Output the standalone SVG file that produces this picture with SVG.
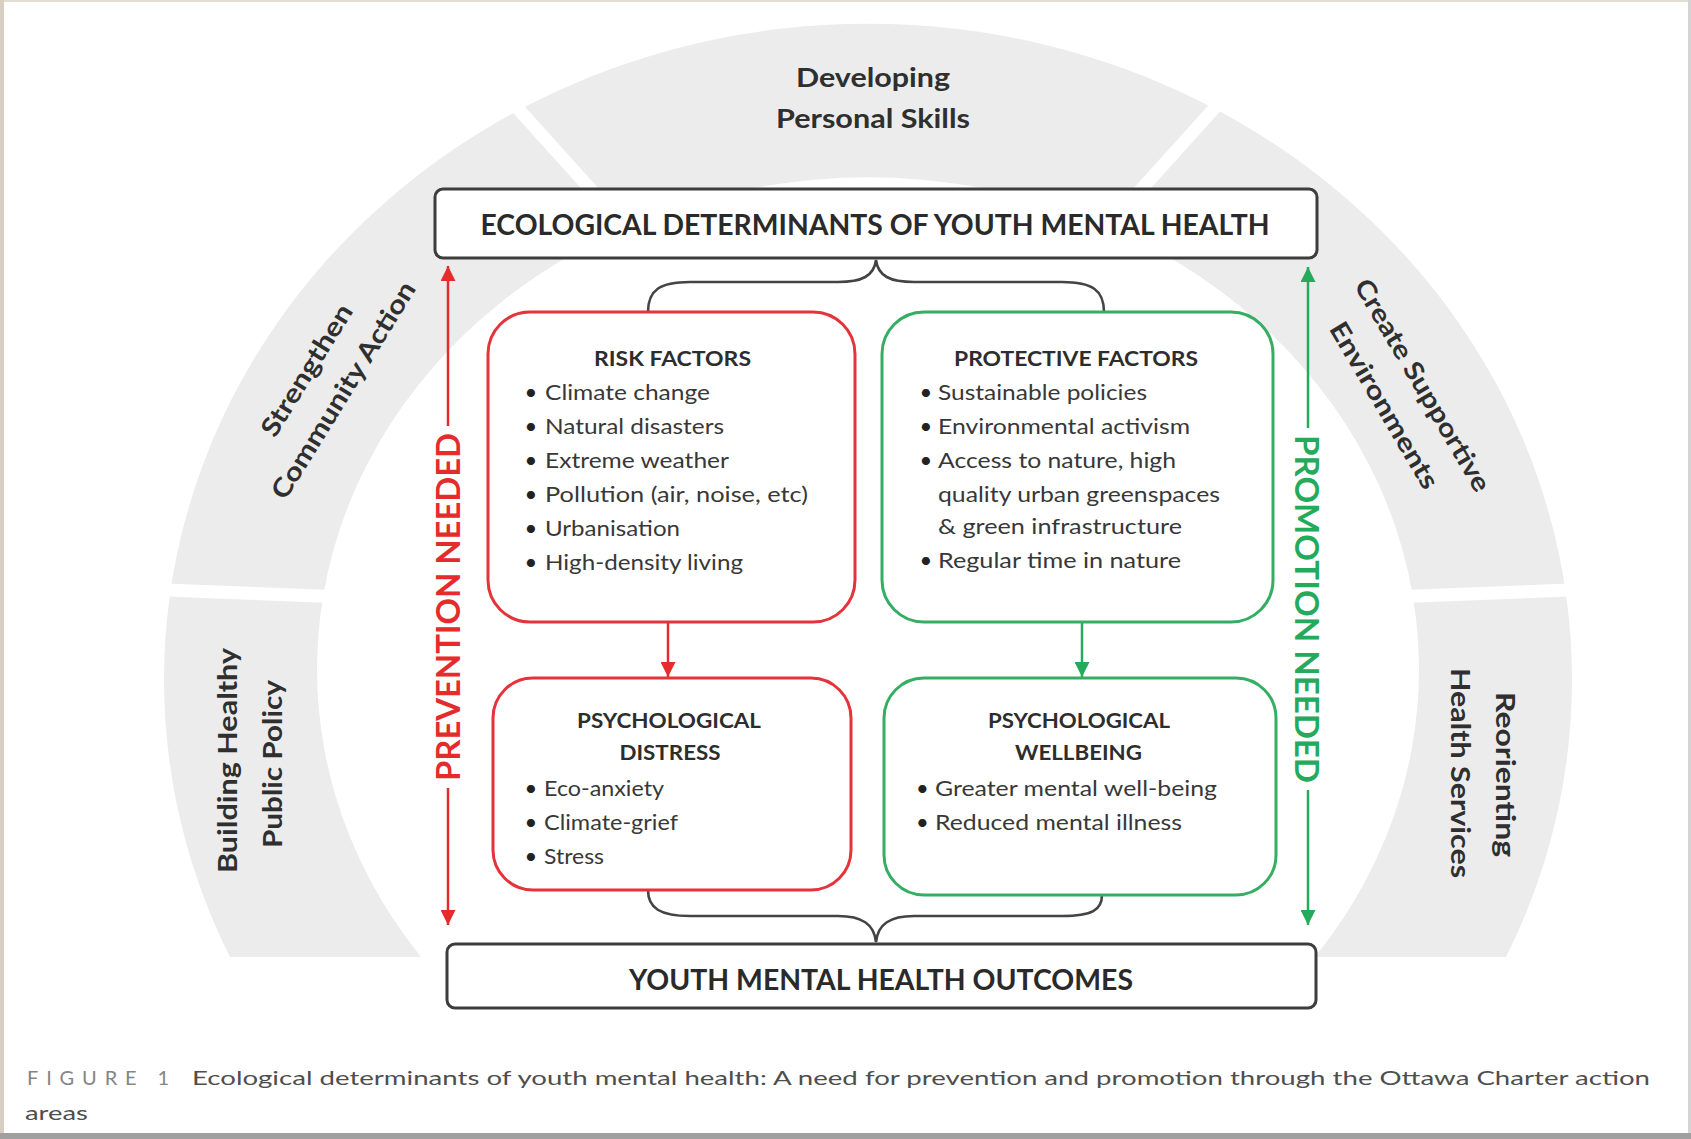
<svg xmlns="http://www.w3.org/2000/svg" width="1691" height="1139" viewBox="0 0 1691 1139">
<style>
text{font-family:Lato,"Liberation Sans",sans-serif}
.band{fill:#ececec}
.gap{stroke:#fff;stroke-width:13;fill:none}
.lbl{font-weight:700;font-size:26px;fill:#2f2f2f;text-anchor:middle}
.title{font-weight:700;font-size:28px;fill:#2a2a2a;text-anchor:middle}
.ht{font-weight:700;font-size:21px;fill:#2d2d2d;text-anchor:middle}
.it{font-size:21px;fill:#383838}
.bul{font-size:22px;fill:#222;text-anchor:middle}
.rbox{fill:#fff;stroke:#e6333a;stroke-width:3}
.gbox{fill:#fff;stroke:#35ae64;stroke-width:3}
.kbox{fill:#fff;stroke:#3d3d3d;stroke-width:3}
.brace{fill:none;stroke:#444;stroke-width:2.6}
.rl{stroke:#e52b2b;stroke-width:2.5;fill:none}
.gl{stroke:#25aa5b;stroke-width:2.5;fill:none}
.need{font-weight:700;font-size:33px;text-anchor:middle}
.cap{font-size:20px}
</style>
<defs>
<marker id="ahR" viewBox="0 0 10 10" refX="10" refY="5" markerWidth="15" markerHeight="15" markerUnits="userSpaceOnUse" orient="auto"><path d="M0,0 L10,5 L0,10 z" fill="#e52b2b"/></marker>
<marker id="ahG" viewBox="0 0 10 10" refX="10" refY="5" markerWidth="15" markerHeight="15" markerUnits="userSpaceOnUse" orient="auto"><path d="M0,0 L10,5 L0,10 z" fill="#25aa5b"/></marker>
</defs>
<rect x="0" y="0" width="1691" height="1139" fill="#fff"/>
<rect x="0" y="0" width="1691" height="2" fill="#e4ddd2"/>
<rect x="0" y="0" width="4" height="1139" fill="#d8cfc0"/>
<rect x="1688" y="0" width="3" height="1139" fill="#d4d4d4"/>
<rect x="0" y="1133" width="1691" height="6" fill="#a0a0a0"/>

<g id="action-areas-ring">
<path class="band" d="M230 957 A704 656 0 1 1 1506 957 L1315 957 A551 492 0 1 0 421 957 Z"/>
<line class="gap" x1="484" y1="71" x2="613" y2="214"/>
<line class="gap" x1="1248" y1="71" x2="1119" y2="214"/>
<line class="gap" x1="140" y1="589" x2="345" y2="597" stroke-width="15"/>
<line class="gap" x1="1391" y1="597" x2="1596" y2="589" stroke-width="15"/>
</g>

<g id="area-personal-skills">
<text class="lbl" x="873" y="87" textLength="154" lengthAdjust="spacingAndGlyphs">Developing</text>
<text class="lbl" x="873" y="128" textLength="194" lengthAdjust="spacingAndGlyphs">Personal Skills</text>
</g>
<g id="area-community-action">
<text class="lbl" transform="translate(307.5,370.8) rotate(-58.3)" x="0" y="8" textLength="150" lengthAdjust="spacingAndGlyphs">Strengthen</text>
<text class="lbl" transform="translate(344.2,390.8) rotate(-58.3)" x="0" y="8" textLength="250" lengthAdjust="spacingAndGlyphs">Community Action</text>
</g>
<g id="area-supportive-environments">
<text class="lbl" transform="translate(1421.7,385.8) rotate(59.5)" x="0" y="8" textLength="242" lengthAdjust="spacingAndGlyphs">Create Supportive</text>
<text class="lbl" transform="translate(1383.3,405.8) rotate(59.5)" x="0" y="8" textLength="189" lengthAdjust="spacingAndGlyphs">Environments</text>
</g>
<g id="area-public-policy">
<text class="lbl" transform="translate(231.5,760.5) rotate(-90)" x="0" y="5" textLength="225" lengthAdjust="spacingAndGlyphs">Building Healthy</text>
<text class="lbl" transform="translate(274,764) rotate(-90)" x="0" y="7.5" textLength="168" lengthAdjust="spacingAndGlyphs">Public Policy</text>
</g>
<g id="area-health-services">
<text class="lbl" transform="translate(1503,774.5) rotate(90)" x="0" y="7" textLength="165" lengthAdjust="spacingAndGlyphs">Reorienting</text>
<text class="lbl" transform="translate(1460.5,773) rotate(90)" x="0" y="9.5" textLength="210" lengthAdjust="spacingAndGlyphs">Health Services</text>
</g>

<g id="connectors">
<path class="brace" d="M648 312 C648 290 660 282 690 282 L838 282 C862 282 874 276 876 260 C878 276 890 282 914 282 L1062 282 C1092 282 1104 290 1104 312"/>
<path class="brace" d="M648 890 C648 908 660 916 690 916 L838 916 C862 916 874 924 876 942 C878 924 890 916 914 916 L1062 916 C1092 916 1102 910 1102 895"/>
<line class="rl" x1="668" y1="623" x2="668" y2="677" marker-end="url(#ahR)"/>
<line class="gl" x1="1082" y1="623" x2="1082" y2="677" marker-end="url(#ahG)"/>
<line class="rl" x1="448" y1="426" x2="448" y2="266" marker-end="url(#ahR)"/>
<line class="rl" x1="448" y1="788" x2="448" y2="925" marker-end="url(#ahR)"/>
<line class="gl" x1="1308" y1="428" x2="1308" y2="267" marker-end="url(#ahG)"/>
<line class="gl" x1="1308" y1="790" x2="1308" y2="925" marker-end="url(#ahG)"/>
</g>

<g id="prevention-needed">
<text class="need" fill="#e52b2b" transform="translate(448,607) rotate(-90)" x="0" y="12" textLength="348" lengthAdjust="spacingAndGlyphs">PREVENTION NEEDED</text>
</g>
<g id="promotion-needed">
<text class="need" fill="#25aa5b" transform="translate(1307,609) rotate(90)" x="0" y="12" textLength="348" lengthAdjust="spacingAndGlyphs">PROMOTION NEEDED</text>
</g>

<g id="ecological-determinants">
<rect class="kbox" x="435" y="189" width="882" height="69" rx="8"/>
<text class="title" x="875" y="235" textLength="789" lengthAdjust="spacingAndGlyphs">ECOLOGICAL DETERMINANTS OF YOUTH MENTAL HEALTH</text>
</g>

<g id="youth-mental-health-outcomes">
<rect class="kbox" x="447" y="944" width="869" height="64" rx="8"/>
<text class="title" x="881" y="990" font-size="27" textLength="504" lengthAdjust="spacingAndGlyphs">YOUTH MENTAL HEALTH OUTCOMES</text>
</g>

<g id="risk-factors">
<rect class="rbox" x="488" y="312" width="367" height="310" rx="42"/>
<text class="ht" x="672.5" y="365.5" textLength="157" lengthAdjust="spacingAndGlyphs">RISK FACTORS</text>
<text class="bul" x="531" y="400">•</text><text class="it" x="545" y="400" textLength="165" lengthAdjust="spacingAndGlyphs">Climate change</text>
<text class="bul" x="531" y="434">•</text><text class="it" x="545" y="434" textLength="179" lengthAdjust="spacingAndGlyphs">Natural disasters</text>
<text class="bul" x="531" y="468">•</text><text class="it" x="545" y="468" textLength="184" lengthAdjust="spacingAndGlyphs">Extreme weather</text>
<text class="bul" x="531" y="502">•</text><text class="it" x="545" y="502" textLength="263" lengthAdjust="spacingAndGlyphs">Pollution (air, noise, etc)</text>
<text class="bul" x="531" y="536">•</text><text class="it" x="545" y="536" textLength="135" lengthAdjust="spacingAndGlyphs">Urbanisation</text>
<text class="bul" x="531" y="570">•</text><text class="it" x="545" y="570" textLength="198" lengthAdjust="spacingAndGlyphs">High-density living</text>
</g>

<g id="protective-factors">
<rect class="gbox" x="882" y="312" width="391" height="310" rx="42"/>
<text class="ht" x="1076" y="365.5" textLength="244" lengthAdjust="spacingAndGlyphs">PROTECTIVE FACTORS</text>
<text class="bul" x="926" y="400">•</text><text class="it" x="938" y="400" textLength="209" lengthAdjust="spacingAndGlyphs">Sustainable policies</text>
<text class="bul" x="926" y="434">•</text><text class="it" x="938" y="434" textLength="252" lengthAdjust="spacingAndGlyphs">Environmental activism</text>
<text class="bul" x="926" y="468">•</text><text class="it" x="938" y="468" textLength="238" lengthAdjust="spacingAndGlyphs">Access to nature, high</text>
<text class="it" x="938" y="502" textLength="282" lengthAdjust="spacingAndGlyphs">quality urban greenspaces</text>
<text class="it" x="938" y="534" textLength="244" lengthAdjust="spacingAndGlyphs">&amp; green infrastructure</text>
<text class="bul" x="926" y="568">•</text><text class="it" x="938" y="568" textLength="243" lengthAdjust="spacingAndGlyphs">Regular time in nature</text>
</g>

<g id="psychological-distress">
<rect class="rbox" x="493" y="678" width="358" height="212" rx="40"/>
<text class="ht" x="669" y="728" textLength="184" lengthAdjust="spacingAndGlyphs">PSYCHOLOGICAL</text>
<text class="ht" x="670" y="759.5" textLength="101" lengthAdjust="spacingAndGlyphs">DISTRESS</text>
<text class="bul" x="531" y="796">•</text><text class="it" x="544" y="796" textLength="120" lengthAdjust="spacingAndGlyphs">Eco-anxiety</text>
<text class="bul" x="531" y="830">•</text><text class="it" x="544" y="830" textLength="134" lengthAdjust="spacingAndGlyphs">Climate-grief</text>
<text class="bul" x="531" y="864">•</text><text class="it" x="544" y="864" textLength="60" lengthAdjust="spacingAndGlyphs">Stress</text>
</g>

<g id="psychological-wellbeing">
<rect class="gbox" x="884" y="678" width="392" height="217" rx="40"/>
<text class="ht" x="1079" y="728" textLength="182" lengthAdjust="spacingAndGlyphs">PSYCHOLOGICAL</text>
<text class="ht" x="1078.5" y="759.5" textLength="127" lengthAdjust="spacingAndGlyphs">WELLBEING</text>
<text class="bul" x="922.5" y="796">•</text><text class="it" x="935" y="796" textLength="282" lengthAdjust="spacingAndGlyphs">Greater mental well-being</text>
<text class="bul" x="922.5" y="830">•</text><text class="it" x="935" y="830" textLength="247" lengthAdjust="spacingAndGlyphs">Reduced mental illness</text>
</g>

<g id="caption">
<text class="cap" x="27" y="1085" fill="#858585" textLength="142" lengthAdjust="spacing">FIGURE 1</text>
<text class="cap" x="192" y="1085" fill="#4e4e4e" textLength="1458" lengthAdjust="spacingAndGlyphs">Ecological determinants of youth mental health: A need for prevention and promotion through the Ottawa Charter action</text>
<text class="cap" x="25" y="1120" fill="#4e4e4e" textLength="63" lengthAdjust="spacingAndGlyphs">areas</text>
</g>
</svg>
